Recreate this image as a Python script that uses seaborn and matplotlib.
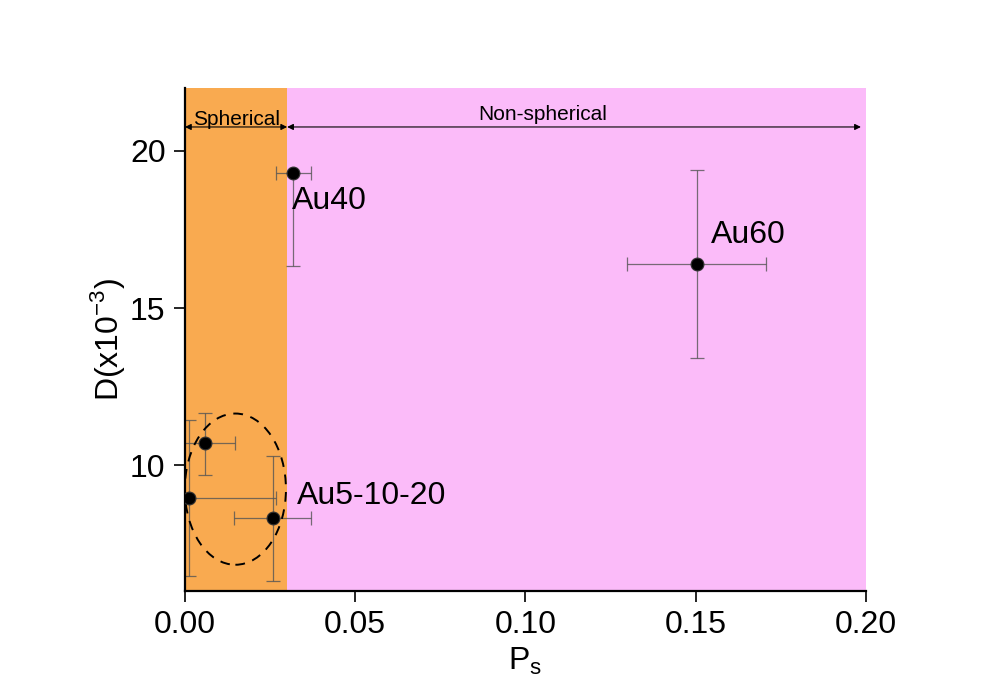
import matplotlib
matplotlib.use("Agg")
import numpy as np
import pandas as pd
import matplotlib.pyplot as plt
from matplotlib.patches import Ellipse
import seaborn as sns

# data
samples = ["Au5", "Au10", "Au20", "Au40", "Au60"]
ps = [0.0013, 0.0059, 0.0258, 0.0318, 0.1503]
d = [8.96, 10.70, 8.31, 19.31, 16.39]
ps_err = [0.0255, 0.0088, 0.0113, 0.0052, 0.0204]
d_err_low = [2.48, 1.02, 1.99, 2.98, 2.99]
d_err_high = [2.48, 0.95, 1.97, 0.0, 2.99]

x_ticks = [0.00, 0.05, 0.10, 0.15, 0.20]
y_ticks = [10, 15, 20]
boundary = 0.03

df = pd.DataFrame({"sample": samples, "Ps": ps, "D": d})

sns.set_theme(style="ticks")
plt.rcParams["font.family"] = ["Liberation Sans", "DejaVu Sans"]
for key in ["text.color", "axes.labelcolor", "xtick.color", "ytick.color"]:
    plt.rcParams[key] = "black"

fig = plt.figure(figsize=(9.85, 7.0), dpi=100)
ax = fig.add_axes([0.1878, 0.1557, 0.6914, 0.7186])

ax.axvspan(0, boundary, color="#F9AA50", lw=0, zorder=0)
ax.axvspan(boundary, 0.20, color="#FBBBF9", lw=0, zorder=0)

ax.errorbar(ps, d, xerr=ps_err, yerr=[d_err_low, d_err_high], fmt="none",
            ecolor="#555555", elinewidth=0.9, capsize=5, capthick=0.9,
            alpha=0.8, zorder=2)
sns.scatterplot(data=df, x="Ps", y="D", ax=ax, color="black", s=85,
                edgecolor="#333333", linewidth=0.8, zorder=3, legend=False)

ax.add_patch(Ellipse((0.0148, 9.24), 0.0297, 4.81, fill=False, ls=(0, (5, 4)),
                     lw=1.4, ec="black", zorder=2))

ax.text(0.0314, 18.42, "Au40", fontsize=23, va="center", ha="left")
ax.text(0.1545, 17.31, "Au60", fontsize=23, va="center", ha="left")
ax.text(0.0329, 9.02, "Au5-10-20", fontsize=23, va="center", ha="left")

arrow_y = 20.76
ax.annotate("", xy=(0, arrow_y), xytext=(boundary, arrow_y),
            arrowprops=dict(arrowstyle="<|-|>", lw=0.8, color="black",
                            mutation_scale=9, shrinkA=0, shrinkB=0))
ax.annotate("", xy=(boundary, arrow_y), xytext=(0.1985, arrow_y),
            arrowprops=dict(arrowstyle="<|-|>", lw=0.8, color="black",
                            mutation_scale=9, shrinkA=0, shrinkB=0))
ax.text(boundary / 2, arrow_y - 0.05, "Spherical", fontsize=15, ha="center", va="bottom")
ax.text(0.105, arrow_y + 0.1, "Non-spherical", fontsize=15, ha="center", va="bottom")

ax.set_xlim(0, 0.20)
ax.set_ylim(6, 22)
ax.set_xticks(x_ticks)
ax.set_xticklabels([f"{t:.2f}" for t in x_ticks])
ax.set_yticks(y_ticks)
ax.tick_params(axis="both", labelsize=23, direction="out", length=8, width=1.2, pad=6)
ax.set_xlabel(r"P$_\mathregular{s}$", fontsize=23, labelpad=4)
ax.set_ylabel(r"D(x10$^\mathregular{-3}$)", fontsize=23, labelpad=2)

sns.despine(ax=ax)
for s in ["left", "bottom"]:
    ax.spines[s].set_linewidth(1.6)
    ax.spines[s].set_color("black")

fig.savefig("out.png", dpi=100)
